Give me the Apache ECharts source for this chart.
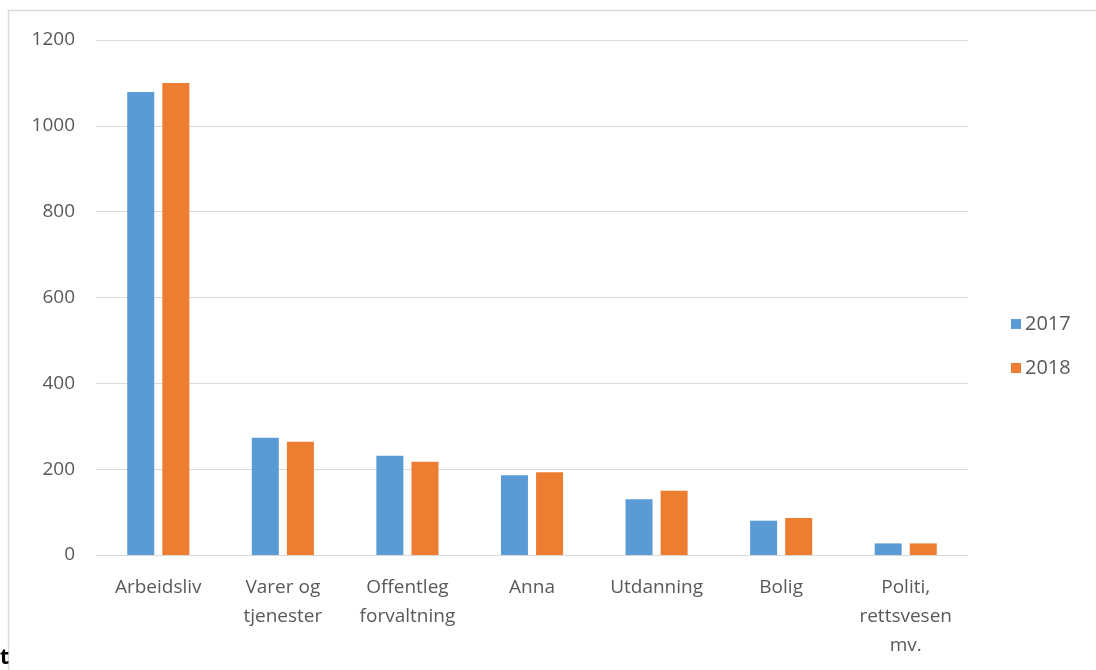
<!DOCTYPE html>
<html><head><meta charset="utf-8">
<script src="https://cdn.jsdelivr.net/npm/echarts@6/dist/echarts.min.js"></script>
<style>html,body{margin:0;padding:0;background:#fff}#c{width:1096px;height:670px}</style>
</head><body><div id="c"></div>
<script>
const categories = ['Arbeidsliv', 'Varer og\ntjenester', 'Offentleg\nforvaltning', 'Anna', 'Utdanning', 'Bolig', 'Politi,\nrettsvesen\nmv.'];
const values2017 = [1079, 273, 231, 186, 130, 80, 27];
const values2018 = [1100, 264, 217, 193, 150, 86, 27];
const seriesNames = ['2017', '2018'];
const yTicks = [0, 200, 400, 600, 800, 1000, 1200];

const chart = echarts.init(document.getElementById('c'));
const font = "'Open Sans', 'Noto Sans', sans-serif";
chart.setOption({
  animation: false,
  backgroundColor: '#fff',
  textStyle: {fontFamily: font},
  graphic: [
    {type: 'rect', shape: {x: 8.5, y: 10.5, width: 1200, height: 800}, style: {fill: 'none', stroke: '#d9d9d9', lineWidth: 1.5}},
    {type: 'text', left: 0, top: 648, style: {text: 't', font: 'bold 21px ' + font, fill: '#000'}}
  ],
  grid: {left: 96, right: 128, top: 40, bottom: 115, containLabel: false},
  legend: {
    orient: 'vertical', left: 1006, top: 309, itemWidth: 10, itemHeight: 10, itemGap: 24, itemStyle: {},
    icon: 'rect', data: seriesNames,
    textStyle: {fontSize: 20, color: '#595959', fontFamily: font, padding: [0, 0, 0, -1]}
  },
  xAxis: {
    type: 'category', data: categories,
    axisLine: {lineStyle: {color: '#d9d9d9', width: 1}},
    axisTick: {show: false},
    axisLabel: {fontSize: 19, color: '#595959', lineHeight: 29, margin: 18, interval: 0, fontFamily: font}
  },
  yAxis: {
    type: 'value', min: yTicks[0], max: yTicks[yTicks.length - 1], interval: 200,
    axisLine: {show: false}, axisTick: {show: false},
    splitLine: {lineStyle: {color: '#d9d9d9', width: 1}},
    axisLabel: {fontSize: 19, color: '#595959', margin: 21, fontFamily: font, formatter: v => String(v)}
  },
  series: [
    {name: seriesNames[0], type: 'bar', data: values2017, barWidth: 27, barGap: '30%', itemStyle: {color: '#5b9bd5'}},
    {name: seriesNames[1], type: 'bar', data: values2018, barWidth: 27, itemStyle: {color: '#ed7d31'}}
  ]
});
</script></body></html>
